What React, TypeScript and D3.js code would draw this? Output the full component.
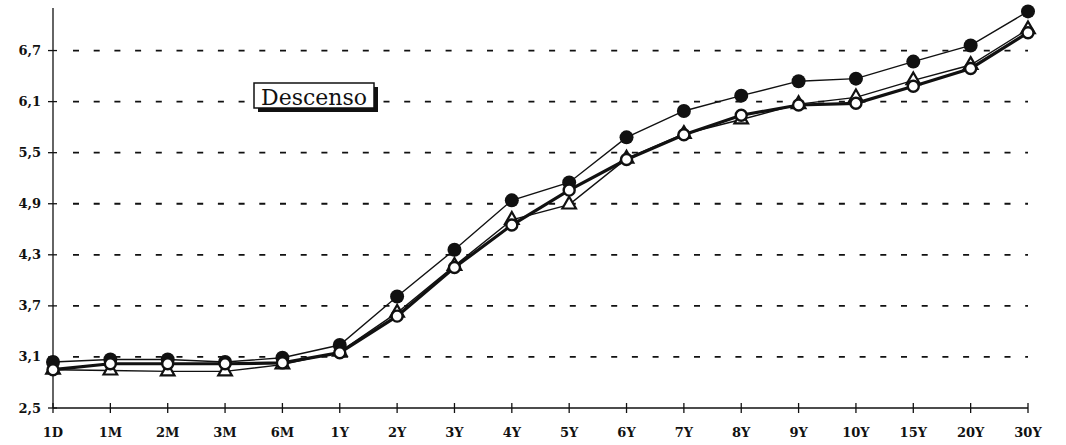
import React from "react";
import * as d3 from "d3";

// Plazos de la curva
const tenors = ["1D", "1M", "2M", "3M", "6M", "1Y", "2Y", "3Y", "4Y", "5Y", "6Y", "7Y", "8Y", "9Y", "10Y", "15Y", "20Y", "30Y"];

// Curva superior (círculos negros)
const filledSeries = [3.04, 3.07, 3.07, 3.04, 3.09, 3.24, 3.81, 4.36, 4.94, 5.15, 5.68, 5.99, 6.17, 6.34, 6.37, 6.57, 6.76, 7.16];
// Curva con triángulos
const triangleSeries = [2.95, 2.94, 2.93, 2.93, 3.01, 3.16, 3.62, 4.17, 4.71, 4.89, 5.43, 5.72, 5.89, 6.07, 6.15, 6.35, 6.53, 6.95];
// Curva gruesa (círculos blancos)
const openSeries = [2.95, 3.02, 3.02, 3.02, 3.03, 3.15, 3.58, 4.15, 4.65, 5.06, 5.42, 5.71, 5.94, 6.06, 6.08, 6.28, 6.49, 6.91];

const yTicks = [2.5, 3.1, 3.7, 4.3, 4.9, 5.5, 6.1, 6.7];
const legendLabel = "Descenso";

const W = 1066;
const H = 445;
const left = 53;
const right = 1028;
const bottom = 408;
const top = 8;

const fmt = (v: number) => v.toFixed(1).replace(".", ",");
const font = "'DejaVu Serif', serif";

export default function App() {
  const x = d3.scalePoint<string>().domain(tenors).range([left, right]).padding(0);
  const y = d3.scaleLinear().domain([2.5, 7.2]).range([bottom, top]);

  const line = d3
    .line<number>()
    .x((_, i) => x(tenors[i]) as number)
    .y((d) => y(d));

  const tri = d3.symbol().type(d3.symbolTriangle).size(80)() as string;

  return (
    <svg width={W} height={H} style={{ position: "absolute", left: 0, top: 0, background: "#fff" }}>
      {/* cuadrícula punteada */}
      {yTicks.slice(1).map((t) => (
        <line key={"g" + t} x1={left + 20} x2={right} y1={y(t)} y2={y(t)} stroke="#111" strokeWidth={1.8} strokeDasharray="6 14.7" />
      ))}

      {/* leyenda */}
      <g>
        <rect x={258} y={87} width={120} height={25} fill="#111" />
        <rect x={254} y={83} width={120} height={25} fill="#fff" stroke="#111" strokeWidth={1.5} />
        <text x={314} y={104.5} textAnchor="middle" fontFamily={font} fontSize={22} fill="#111">
          {legendLabel}
        </text>
      </g>

      {/* ejes */}
      <line x1={left} x2={left} y1={top} y2={bottom} stroke="#111" strokeWidth={1.3} />
      <line x1={left} x2={right} y1={bottom} y2={bottom} stroke="#111" strokeWidth={1.3} />
      {yTicks.map((t) => (
        <g key={"y" + t}>
          <line x1={left - 5} x2={left + 4} y1={y(t)} y2={y(t)} stroke="#111" strokeWidth={1.3} />
          <text x={41} y={y(t)} dy="0.35em" textAnchor="end" fontFamily={font} fontWeight="bold" fontSize={13} fill="#111">
            {fmt(t)}
          </text>
        </g>
      ))}
      {tenors.map((c) => (
        <g key={"x" + c}>
          <line x1={x(c)} x2={x(c)} y1={bottom - 5} y2={bottom + 5} stroke="#111" strokeWidth={1.3} />
          <text x={x(c)} y={437} textAnchor="middle" fontFamily={font} fontWeight="bold" fontSize={13} fill="#111">
            {c}
          </text>
        </g>
      ))}

      {/* series */}
      <path d={line(filledSeries) as string} fill="none" stroke="#111" strokeWidth={1.4} />
      <path d={line(triangleSeries) as string} fill="none" stroke="#111" strokeWidth={1.4} />
      <path d={line(openSeries) as string} fill="none" stroke="#111" strokeWidth={3.2} />

      {filledSeries.map((v, i) => (
        <circle key={"f" + i} cx={x(tenors[i])} cy={y(v)} r={7} fill="#111" />
      ))}
      {triangleSeries.map((v, i) => (
        <path key={"t" + i} d={tri} transform={`translate(${x(tenors[i])},${y(v)})`} fill="#fff" stroke="#111" strokeWidth={2.2} />
      ))}
      {openSeries.map((v, i) => (
        <circle key={"o" + i} cx={x(tenors[i])} cy={y(v)} r={5.5} fill="#fff" stroke="#111" strokeWidth={2.4} />
      ))}
    </svg>
  );
}
